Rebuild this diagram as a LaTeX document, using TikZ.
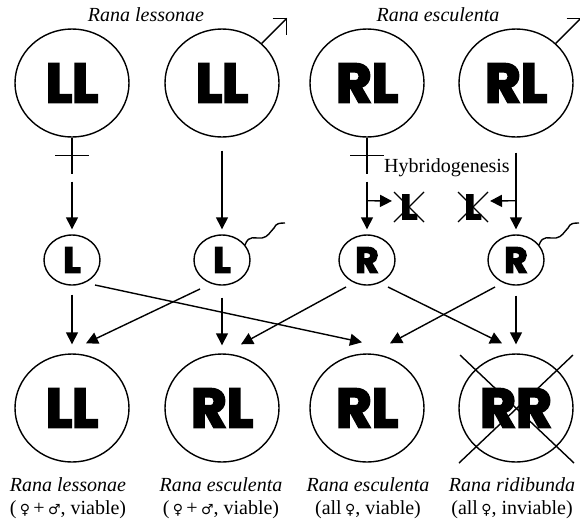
\documentclass[tikz,border=0pt]{standalone}
\usepackage{fontspec}
\setmainfont{Liberation Serif}
\newfontfamily\heavy[FakeBold=4]{Poppins Bold}
\newfontfamily\symf{DejaVu Sans}
\newcommand\myfem{{\symf\fontsize{14}{14}\selectfont ♀}}
\newcommand\mymal{{\symf\fontsize{14}{14}\selectfont ♂}}
\usetikzlibrary{arrows.meta,calc,shapes.geometric}
\begin{document}
\begin{tikzpicture}[x=1pt,y=-1pt,line width=1.4pt,
  big/.style={ellipse,draw,minimum width=114pt,minimum height=108pt,inner sep=0pt,font=\heavy\fontsize{55}{55}\selectfont},
  small/.style={ellipse,draw,minimum width=56pt,minimum height=50pt,inner sep=0pt,font=\heavy\fontsize{36}{36}\selectfont},
  gone/.style={inner sep=0pt,font=\heavy\fontsize{35}{35}\selectfont},
  arr/.style={-{Triangle[length=12pt,width=12pt]}},
  title/.style={font=\itshape\fontsize{20}{20}\selectfont},
  lbl/.style={font=\fontsize{20}{22.5}\selectfont,align=center},
  tail/.pic={\draw (23,-15) .. controls (27,-26) and (33,-21) .. (40,-22)
      .. controls (46,-23) and (48,-28) .. (52,-32)
      .. controls (54,-37) and (58,-37) .. (63,-37);}]
\useasboundingbox (0,0) rectangle (580,523);
% titles
\node[title] (t1) at (146,15) {Rana lessonae};
\node[title] (t2) at (438,15) {Rana esculenta};
% parents
\node[big] (T1) at (72,83) {LL};
\node[big] (T2) at (222,83) {LL};
\node[big] (T3) at (367,83) {RL};
\node[big] (T4) at (516,83) {RL};
% gametes
\node[small] (L1) at (72,260) {L};
\node[small] (L2) at (222,260) {L};
\node[small] (R1) at (367,260) {R};
\node[small] (R2) at (516,260) {R};
% offspring
\node[big] (B1) at (72,408) {LL};
\node[big] (B2) at (222,408) {RL};
\node[big] (B3) at (367,408) {RL};
\node[big] (B4) at (516,408) {RR};
% female symbols
\draw (T1.south) -- ++(0,36);
\draw ($(T1.south)+(-17,18)$) -- ++(34,0);
\draw (T3.south) -- ++(0,36);
\draw ($(T3.south)+(-17,18)$) -- ++(34,0);
% male symbols
\coordinate (m2) at ($(T2.45)+(25,-25)$);
\draw (T2.45) -- (m2);
\draw ($(m2)+(-14,0)$) -- (m2) -- ($(m2)+(0,17)$);
\coordinate (m4) at ($(T4.45)+(25,-25)$);
\draw (T4.45) -- (m4);
\draw ($(m4)+(-14,0)$) -- (m4) -- ($(m4)+(0,17)$);
% parent to gamete arrows
\draw[arr] ($(T1.south)+(0,44)$) -- ($(L1.north)+(0,-5)$);
\draw[arr] ($(T2.south)+(0,13)$) -- ($(L2.north)+(0,-5)$);
\draw[arr] ($(T3.south)+(0,44)$) -- ($(R1.north)+(0,-5)$);
\draw[arr] ($(T4.south)+(0,15)$) -- ($(R2.north)+(0,-5)$);
% hybridogenesis
\node[font=\fontsize{20}{20}\selectfont] (hy) at (447,168) {Hybridogenesis};
\node[gone] (X1) at (409,207) {L};
\node[gone] (X2) at (473,207) {L};
\draw[line width=1.1pt] ($(X1)+(-15,-15)$) -- ($(X1)+(15,15)$);
\draw[line width=1.1pt] ($(X1)+(15,-15)$) -- ($(X1)+(-15,15)$);
\draw[line width=1.1pt] ($(X2)+(-15,-15)$) -- ($(X2)+(15,15)$);
\draw[line width=1.1pt] ($(X2)+(15,-15)$) -- ($(X2)+(-15,15)$);
\draw[arr] ($(T3.south)+(0,63)$) -- ($(X1)+(-17,-6)$);
\draw[arr] ($(T4.south)+(0,63)$) -- ($(X2)+(17,-6)$);
% sperm tails
\pic at (L2) {tail};
\pic at (R2) {tail};
% gamete to offspring arrows
\draw[arr] ($(L1.south)+(0,9)$) -- ($(B1.north)+(0,-9)$);
\draw[arr] ($(L1)+(23,25)$) -- ($(B3.north)+(-5,-11)$);
\draw[arr] ($(L2)+(-22,29)$) -- ($(B1.north)+(14,-10)$);
\draw[arr] ($(L2.south)+(0,12)$) -- ($(B2.north)+(0,-8)$);
\draw[arr] ($(R1)+(-21,27)$) -- ($(B2.north)+(19,-9)$);
\draw[arr] ($(R1)+(21,27)$) -- ($(B4.north)+(-14,-10)$);
\draw[arr] ($(R2)+(-21,27)$) -- ($(B3.north)+(23,-10)$);
\draw[arr] ($(R2.south)+(0,10)$) -- ($(B4.north)+(0,-9)$);
% RR crossed out
\draw ($(B4)+(-56,-53)$) -- ($(B4)+(58,55)$);
\draw ($(B4)+(57,-53)$) -- ($(B4)+(-57,55)$);
% labels
\node[lbl] (c1) at (68,498) {\textit{Rana lessonae}\\(\,\myfem\,+\,\mymal, viable)};
\node[lbl] (c2) at (221,498) {\textit{Rana esculenta}\\(\,\myfem\,+\,\mymal, viable)};
\node[lbl] (c3) at (368,498) {\textit{Rana esculenta}\\(all\,\myfem, viable)};
\node[lbl] (c4) at (512,498) {\textit{Rana ridibunda}\\(all\,\myfem, inviable)};
\end{tikzpicture}
\end{document}
